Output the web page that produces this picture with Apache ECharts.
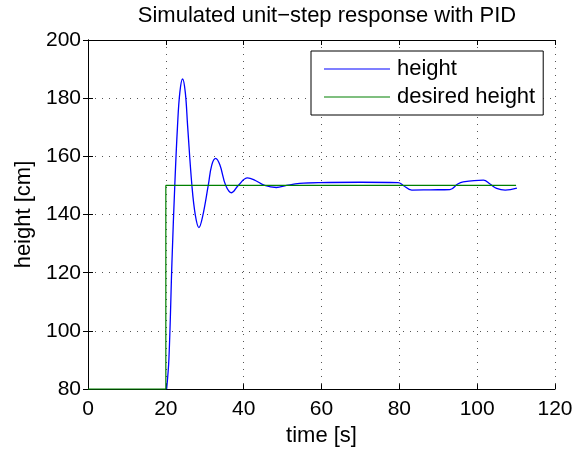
<!DOCTYPE html>
<html>
<head>
<meta charset="utf-8">
<title>PID step response</title>
<script src="https://cdn.jsdelivr.net/npm/echarts@6/dist/echarts.min.js"></script>
<style>
  html, body { margin: 0; padding: 0; background: #fff; }
  #main { width: 585px; height: 452px; }
</style>
</head>
<body>
<div id="main"></div>
<script>
var heightTime = [20.2, 20.8, 21.6, 22.3, 23.0, 23.6, 24.3, 25.0, 25.6, 26.7, 27.6, 28.5, 29.4, 30.9,
  31.8, 32.8, 33.9, 35.4, 36.9, 38.6, 41.0, 43.0, 45.4, 48.4, 51.0, 54.4, 59.6, 70.0, 79.7, 81.0,
  83.2, 88.0, 93.0, 95.0, 96.4, 101.6, 103.3, 105.0, 107.2, 110.2];
var heightValue = [80, 90.6, 124.8, 150, 170.4, 182, 186.6, 182, 170.4, 150, 139.6, 135.5, 139, 150,
  157, 159.3, 157, 150, 147.5, 150, 152.6, 151.7, 150, 149.3, 150, 150.7, 151, 151.1, 151, 150,
  148.4, 148.5, 148.6, 150.5, 151.2, 151.8, 150.5, 149, 148.4, 149.1];
// reference (step at t = 20)
var desiredTime = [0, 20, 20, 110];
var desiredValue = [80, 80, 150, 150];

var xTicks = [0, 20, 40, 60, 80, 100, 120];
var yTicks = [80, 100, 120, 140, 160, 180, 200];

function pairs(xs, ys) {
  var out = [];
  for (var i = 0; i < xs.length; i++) out.push([xs[i], ys[i]]);
  return out;
}

var font = 'Liberation Sans, Arial, Helvetica, sans-serif';
var dotted = { color: '#555', width: 1, type: [1, 6] };
var black = { color: '#000', width: 1 };

var chart = echarts.init(document.getElementById('main'));
var option = {
  animation: false,
  textStyle: { fontFamily: font, color: '#000' },
  title: {
    text: 'Simulated unit\u2212step response with PID',
    left: 322, textAlign: 'center', top: 0,
    textStyle: { fontFamily: font, fontSize: 22, fontWeight: 'normal', color: '#000' }
  },
  legend: {
    orient: 'vertical',
    left: 311, top: 51,
    padding: [7, 8, 7, 13],
    itemGap: 6,
    itemWidth: 66,
    itemHeight: 1,
    icon: 'rect',
    borderColor: '#000', borderWidth: 1,
    backgroundColor: '#fff',
    textStyle: { fontFamily: font, fontSize: 22, color: '#000', padding: [0, 0, 0, 2] },
    data: ['height', 'desired height']
  },
  grid: { left: 88, right: 30, top: 40, bottom: 61 },
  xAxis: [{
    type: 'value', min: 0, max: 120, interval: 20,
    name: 'time [s]', nameLocation: 'middle', nameGap: 34,
    nameTextStyle: { fontFamily: font, fontSize: 22, color: '#000' },
    axisLine: { lineStyle: black },
    axisTick: { inside: true, length: 5, lineStyle: black },
    axisLabel: { fontFamily: font, fontSize: 21, color: '#000', margin: 10 },
    splitLine: { show: true, lineStyle: dotted }
  }, {
    type: 'value', min: 0, max: 120, interval: 20, position: 'top',
    axisLine: { lineStyle: black },
    axisTick: { inside: true, length: 5, lineStyle: black },
    axisLabel: { show: false },
    splitLine: { show: false }
  }],
  yAxis: [{
    type: 'value', min: 80, max: 200, interval: 20,
    name: 'height [cm]', nameLocation: 'middle', nameGap: 53,
    nameTextStyle: { fontFamily: font, fontSize: 22, color: '#000' },
    axisLine: { show: true, lineStyle: black },
    axisTick: { show: true, inside: true, length: 5, lineStyle: black },
    axisLabel: { fontFamily: font, fontSize: 21, color: '#000', margin: 7 },
    splitLine: { show: true, lineStyle: dotted }
  }, {
    type: 'value', min: 80, max: 200, interval: 20, position: 'right',
    axisLine: { show: true, lineStyle: black },
    axisTick: { show: true, inside: true, length: 5, lineStyle: black },
    axisLabel: { show: false },
    splitLine: { show: false }
  }],
  series: [
    {
      name: 'height', type: 'line',
      data: pairs(heightTime, heightValue),
      smooth: 0.4, symbol: 'none',
      lineStyle: { color: '#0000ff', width: 1.3 },
      itemStyle: { color: '#0000ff' }
    },
    {
      name: 'desired height', type: 'line',
      data: pairs(desiredTime, desiredValue),
      symbol: 'none',
      lineStyle: { color: '#008000', width: 1.2 },
      itemStyle: { color: '#008000' }
    }
  ]
};
chart.setOption(option);
</script>
</body>
</html>
